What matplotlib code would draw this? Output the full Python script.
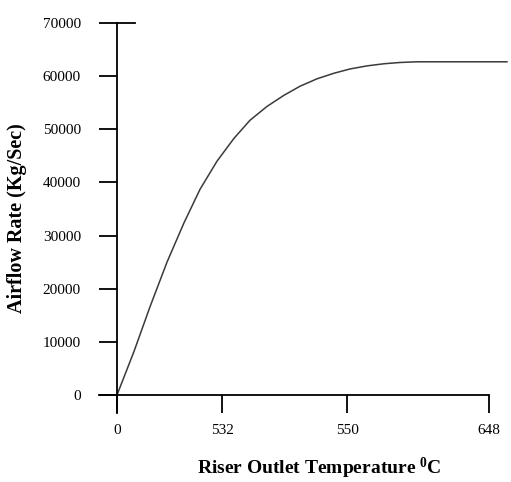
import matplotlib
matplotlib.use("Agg")
import matplotlib.pyplot as plt

# x positions are in axis units (the original axis is not linear in temperature)
tick_pos = [0, 105, 230, 372]
tick_labels = ["0", "532", "550", "648"]

curve_x = [0, 17, 33, 50, 67, 83, 100, 117, 133, 150, 167, 183, 200,
           217, 233, 250, 267, 283, 300, 317, 390]
curve_y = [0, 8200, 16600, 25000, 32400, 38700, 44000, 48300, 51700, 54300,
           56400, 58100, 59500, 60550, 61350, 61930, 62330, 62570, 62700,
           62700, 62700]

y_ticks = [0, 10000, 20000, 30000, 40000, 50000, 60000, 70000]

plt.rcParams['font.family'] = ['Liberation Serif', 'DejaVu Serif']
plt.rcParams['mathtext.fontset'] = 'custom'
plt.rcParams['mathtext.bf'] = 'Liberation Serif:bold'
plt.rcParams['mathtext.rm'] = 'Liberation Serif'

W, H = 511, 482
fig = plt.figure(figsize=(W / 100, H / 100), dpi=100)
ax = fig.add_axes([117 / W, 87 / H, (507 - 117) / W, (395 - 23) / H])

ax.plot(curve_x, curve_y, color='#3a3a3a', linewidth=1.1, clip_on=False)

ax.set_xlim(0, 390)
ax.set_ylim(0, 70000)

for s in ax.spines.values():
    s.set_visible(False)

# axis lines, extended past the origin like the original
ax.plot([0, 0], [-3400, 70000], color='black', linewidth=1.3, clip_on=False)
ax.plot([-18, 372], [0, 0], color='black', linewidth=1.3, clip_on=False)
ax.plot([0, 18], [70000, 70000], color='black', linewidth=1.3, clip_on=False)

ax.set_xticks(tick_pos)
ax.set_xticklabels(tick_labels)
ax.set_yticks(y_ticks)
ax.tick_params(axis='both', length=13, width=1.3, direction='out', labelsize=11)
ax.tick_params(axis='y', pad=13)
ax.tick_params(axis='x', pad=8)

ax.set_xlabel(r'Riser Outlet Temperature $\mathbf{^0}$C', fontsize=14,
              fontweight='bold')
ax.set_ylabel('Airflow Rate (Kg/Sec)', fontsize=14.5, fontweight='bold')
ax.xaxis.set_label_coords((319 - 117) / (507 - 117), -(456 - 395) / (395 - 23))
ax.yaxis.set_label_coords(-(117 - 27) / (507 - 117), 0.475)

fig.savefig('out.png', dpi=100)
